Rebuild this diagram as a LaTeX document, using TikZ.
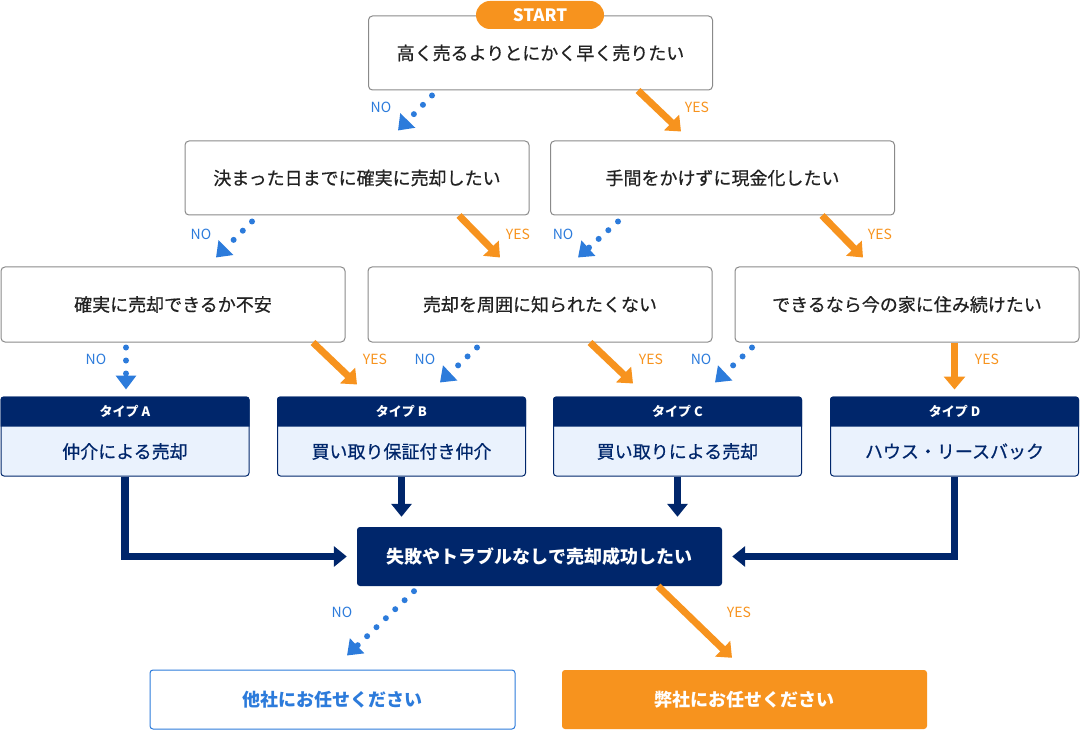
\documentclass[tikz,border=0pt]{standalone}
\usepackage{fontspec}
\setmainfont{Noto Sans CJK JP}
\newfontfamily\medfont{Noto Sans CJK JP}[FakeBold=0.6]
\usetikzlibrary{arrows.meta,calc}
\definecolor{cOrange}{HTML}{F7931E}
\definecolor{cNavy}{HTML}{00266B}
\definecolor{cBlue}{HTML}{2C7BDB}
\definecolor{cLight}{HTML}{EAF2FD}
\definecolor{cGray}{HTML}{8A8A8A}
\definecolor{cText}{HTML}{222222}
\begin{document}
\begin{tikzpicture}[x=1pt,y=-1pt,
  qbox/.style={draw=cGray,line width=1pt,rounded corners=4pt,fill=white,minimum width=344pt,minimum height=74pt,inner sep=0pt,font=\medfont\fontsize{18}{20}\selectfont,text=cText},
  tbox/.style={draw=cNavy,line width=1pt,rounded corners=3pt,fill=cLight,minimum width=248pt,minimum height=79pt,inner sep=0pt},
  thead/.style={text=white,font=\bfseries\fontsize{13}{15}\selectfont,inner sep=0pt},
  tbody/.style={text=cNavy,font=\medfont\fontsize{18}{20}\selectfont,inner sep=0pt},
  wide/.style={minimum width=365pt,minimum height=59pt,rounded corners=3pt,inner sep=0pt,font=\bfseries\fontsize{18}{20}\selectfont},
  nolab/.style={text=cBlue,font=\fontsize{14}{16}\selectfont,inner sep=0pt},
  yeslab/.style={text=cOrange,font=\fontsize{14}{16}\selectfont,inner sep=0pt},
  yesarr/.style={draw=cOrange,line width=7pt,-{Triangle[width=21pt,length=13pt]}},
  noarr/.style={draw=cBlue,line width=6pt,line cap=round,dash pattern=on 0pt off 13pt,-{Triangle[width=20pt,length=14pt,line cap=butt]}},
  navyarr/.style={draw=cNavy,line width=7.5pt,-{Triangle[width=20pt,length=13pt]}}
]
\useasboundingbox (0,0) rectangle (1090,730);

% questions
\node[qbox] (q1) at (540.5,53) {\raisebox{-3pt}{高く売るよりとにかく早く売りたい}};
\node[fill=cOrange,rounded corners=14pt,minimum width=128pt,minimum height=28pt,inner sep=0pt,text=white,font=\bfseries\fontsize{17}{19}\selectfont] (start) at (540,15) {START};
\node[qbox] (q2L) at (357,178) {決まった日までに確実に売却したい};
\node[qbox] (q2R) at (722.5,178) {手間をかけずに現金化したい};
\node[qbox,minimum height=75pt] (q3a) at (173,304.5) {確実に売却できるか不安};
\node[qbox,minimum height=75pt] (q3b) at (540,304.5) {売却を周囲に知られたくない};
\node[qbox,minimum height=75pt] (q3c) at (907,304.5) {できるなら今の家に住み続けたい};

% type boxes
\foreach \n/\x/\h/\b in {tA/125/タイプ A/仲介による売却, tB/401.5/タイプ B/買い取り保証付き仲介, tC/677.5/タイプ C/買い取りによる売却, tD/954.5/タイプ D/ハウス・リースバック}{
  \node[tbox] (\n) at (\x,436.5) {};
  \fill[cNavy] ($(\n.north west)+(0,30)$) [rounded corners=3pt] -- (\n.north west) -- (\n.north east) [sharp corners] -- ($(\n.north east)+(0,30)$) -- cycle;
  \node[thead] (\n h) at ($(\n.north)+(0,15)$) {\h};
  \node[tbody] (\n b) at ($(\n.center)+(0,15)$) {\b};
}

% center and results
\node[wide,fill=cNavy,text=white] (c) at (539.5,556.5) {失敗やトラブルなしで売却成功したい};
\node[wide,draw=cBlue,line width=1pt,fill=white,text=cBlue] (bl) at (332.5,699.5) {他社にお任せください};
\node[wide,fill=cOrange,text=white] (br) at (744.5,699.5) {弊社にお任せください};

% arrows level 1
\draw[noarr] ($(q1.south)+(-108.5,5)$) -- ($(q2L.north)+(41,-10)$);
\draw[yesarr] ($(q1.south)+(97.5,0)$) -- ($(q2R.north)+(-41.5,-9)$);
\node[nolab] (n1) at (381,107) {NO};
\node[yeslab] (y1) at (697,107) {YES};

% level 2
\draw[noarr] ($(q2L.south)+(-105,6)$) -- ($(q3a.north)+(43,-9)$);
\draw[yesarr] ($(q2L.south)+(102,0)$) -- ($(q3b.north)+(-40,-9)$);
\draw[noarr] ($(q2R.south)+(-104.5,6)$) -- ($(q3b.north)+(38,-9)$);
\draw[yesarr] ($(q2R.south)+(99.5,0)$) -- ($(q3c.north)+(-44,-9)$);
\node[nolab] (n2) at (201,234) {NO};
\node[yeslab] (y2) at (518,234) {YES};
\node[nolab] (n3) at (563,234) {NO};
\node[yeslab] (y3) at (880,234) {YES};

% level 3
\draw[noarr] ($(q3a.south)+(-47,5)$) -- ($(tA.north)+(1,-7)$);
\draw[yesarr] ($(q3a.south)+(140,0)$) -- ($(tB.north)+(-44.5,-12)$);
\draw[noarr] ($(q3b.south)+(-63,5)$) -- ($(tB.north)+(38.5,-14)$);
\draw[yesarr] ($(q3b.south)+(50,0)$) -- ($(tC.north)+(-44.5,-13)$);
\draw[noarr] ($(q3c.south)+(-155,5)$) -- ($(tC.north)+(37.5,-14)$);
\draw[yesarr] ($(q3c.south)+(47.5,0)$) -- ($(tD.north)+(0,-7)$);
\node[nolab] (n4) at (96,359) {NO};
\node[yeslab] (y4) at (375,359) {YES};
\node[nolab] (n5) at (425,359) {NO};
\node[yeslab] (y5) at (651,359) {YES};
\node[nolab] (n6) at (701,359) {NO};
\node[yeslab] (y6) at (987,359) {YES};

% type -> center
\draw[navyarr] (tA.south) |- ($(c.west)+(-10,0)$);
\draw[navyarr] (tB.south) -- (tB.south |- {$(c.north)+(0,-10)$});
\draw[navyarr] (tC.south) -- (tC.south |- {$(c.north)+(0,-10)$});
\draw[navyarr] (tD.south) |- ($(c.east)+(10,0)$);

% center -> results
\draw[noarr] ($(c.south)+(-125.5,5)$) -- ($(bl.north)+(14.5,-14)$);
\draw[yesarr] ($(c.south)+(118.5,0)$) -- ($(br.north)+(-12.5,-12)$);
\node[nolab] (n7) at (342,612) {NO};
\node[yeslab] (y7) at (739,612) {YES};
\end{tikzpicture}
\end{document}
